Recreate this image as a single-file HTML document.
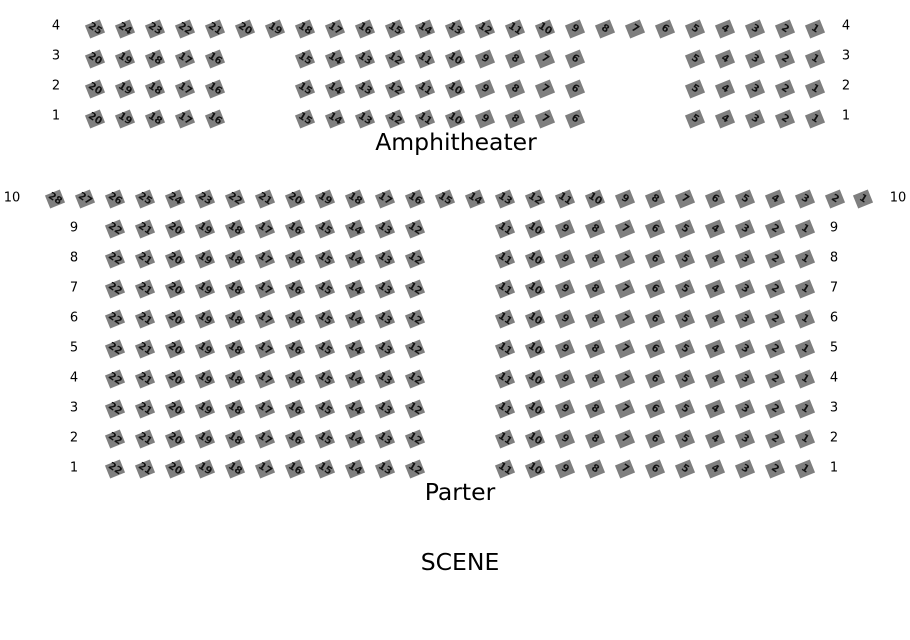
<!DOCTYPE html>
<html><head><meta charset="utf-8"><style>
html,body{margin:0;padding:0;background:#fff;width:910px;height:640px;overflow:hidden}
svg{display:block}
.s rect{fill:#7f7f7f;transform:rotate(-22deg)}
.s text{font:bold 10px "DejaVu Sans","Liberation Sans",sans-serif;fill:#111;text-anchor:middle;dominant-baseline:central;transform:rotate(32deg)}
.l{font:13px "DejaVu Sans","Liberation Sans",sans-serif;fill:#000;text-anchor:middle;dominant-baseline:central}
.t{font:23.5px "DejaVu Sans","Liberation Sans",sans-serif;fill:#000;text-anchor:middle}
</style></head><body>
<svg width="910" height="640" viewBox="0 0 910 640" xmlns="http://www.w3.org/2000/svg">

<text class="l" x="56" y="26">4</text><text class="l" x="846" y="26">4</text>
<text class="l" x="56" y="56">3</text><text class="l" x="846" y="56">3</text>
<text class="l" x="56" y="86">2</text><text class="l" x="846" y="86">2</text>
<text class="l" x="56" y="116">1</text><text class="l" x="846" y="116">1</text>

<g class="s" transform="translate(0,29)">
<g transform="translate(95)"><rect x="-8" y="-7" width="16" height="14"/><text>25</text></g>
<g transform="translate(125)"><rect x="-8" y="-7" width="16" height="14"/><text>24</text></g>
<g transform="translate(155)"><rect x="-8" y="-7" width="16" height="14"/><text>23</text></g>
<g transform="translate(185)"><rect x="-8" y="-7" width="16" height="14"/><text>22</text></g>
<g transform="translate(215)"><rect x="-8" y="-7" width="16" height="14"/><text>21</text></g>
<g transform="translate(245)"><rect x="-8" y="-7" width="16" height="14"/><text>20</text></g>
<g transform="translate(275)"><rect x="-8" y="-7" width="16" height="14"/><text>19</text></g>
<g transform="translate(305)"><rect x="-8" y="-7" width="16" height="14"/><text>18</text></g>
<g transform="translate(335)"><rect x="-8" y="-7" width="16" height="14"/><text>17</text></g>
<g transform="translate(365)"><rect x="-8" y="-7" width="16" height="14"/><text>16</text></g>
<g transform="translate(395)"><rect x="-8" y="-7" width="16" height="14"/><text>15</text></g>
<g transform="translate(425)"><rect x="-8" y="-7" width="16" height="14"/><text>14</text></g>
<g transform="translate(455)"><rect x="-8" y="-7" width="16" height="14"/><text>13</text></g>
<g transform="translate(485)"><rect x="-8" y="-7" width="16" height="14"/><text>12</text></g>
<g transform="translate(515)"><rect x="-8" y="-7" width="16" height="14"/><text>11</text></g>
<g transform="translate(545)"><rect x="-8" y="-7" width="16" height="14"/><text>10</text></g>
<g transform="translate(575)"><rect x="-8" y="-7" width="16" height="14"/><text>9</text></g>
<g transform="translate(605)"><rect x="-8" y="-7" width="16" height="14"/><text>8</text></g>
<g transform="translate(635)"><rect x="-8" y="-7" width="16" height="14"/><text>7</text></g>
<g transform="translate(665)"><rect x="-8" y="-7" width="16" height="14"/><text>6</text></g>
<g transform="translate(695)"><rect x="-8" y="-7" width="16" height="14"/><text>5</text></g>
<g transform="translate(725)"><rect x="-8" y="-7" width="16" height="14"/><text>4</text></g>
<g transform="translate(755)"><rect x="-8" y="-7" width="16" height="14"/><text>3</text></g>
<g transform="translate(785)"><rect x="-8" y="-7" width="16" height="14"/><text>2</text></g>
<g transform="translate(815)"><rect x="-8" y="-7" width="16" height="14"/><text>1</text></g>
</g>

<g class="s" transform="translate(0,59)">
<g transform="translate(95)"><rect x="-8" y="-7" width="16" height="14"/><text>20</text></g>
<g transform="translate(125)"><rect x="-8" y="-7" width="16" height="14"/><text>19</text></g>
<g transform="translate(155)"><rect x="-8" y="-7" width="16" height="14"/><text>18</text></g>
<g transform="translate(185)"><rect x="-8" y="-7" width="16" height="14"/><text>17</text></g>
<g transform="translate(215)"><rect x="-8" y="-7" width="16" height="14"/><text>16</text></g>
<g transform="translate(305)"><rect x="-8" y="-7" width="16" height="14"/><text>15</text></g>
<g transform="translate(335)"><rect x="-8" y="-7" width="16" height="14"/><text>14</text></g>
<g transform="translate(365)"><rect x="-8" y="-7" width="16" height="14"/><text>13</text></g>
<g transform="translate(395)"><rect x="-8" y="-7" width="16" height="14"/><text>12</text></g>
<g transform="translate(425)"><rect x="-8" y="-7" width="16" height="14"/><text>11</text></g>
<g transform="translate(455)"><rect x="-8" y="-7" width="16" height="14"/><text>10</text></g>
<g transform="translate(485)"><rect x="-8" y="-7" width="16" height="14"/><text>9</text></g>
<g transform="translate(515)"><rect x="-8" y="-7" width="16" height="14"/><text>8</text></g>
<g transform="translate(545)"><rect x="-8" y="-7" width="16" height="14"/><text>7</text></g>
<g transform="translate(575)"><rect x="-8" y="-7" width="16" height="14"/><text>6</text></g>
<g transform="translate(695)"><rect x="-8" y="-7" width="16" height="14"/><text>5</text></g>
<g transform="translate(725)"><rect x="-8" y="-7" width="16" height="14"/><text>4</text></g>
<g transform="translate(755)"><rect x="-8" y="-7" width="16" height="14"/><text>3</text></g>
<g transform="translate(785)"><rect x="-8" y="-7" width="16" height="14"/><text>2</text></g>
<g transform="translate(815)"><rect x="-8" y="-7" width="16" height="14"/><text>1</text></g>
</g>

<g class="s" transform="translate(0,89)">
<g transform="translate(95)"><rect x="-8" y="-7" width="16" height="14"/><text>20</text></g>
<g transform="translate(125)"><rect x="-8" y="-7" width="16" height="14"/><text>19</text></g>
<g transform="translate(155)"><rect x="-8" y="-7" width="16" height="14"/><text>18</text></g>
<g transform="translate(185)"><rect x="-8" y="-7" width="16" height="14"/><text>17</text></g>
<g transform="translate(215)"><rect x="-8" y="-7" width="16" height="14"/><text>16</text></g>
<g transform="translate(305)"><rect x="-8" y="-7" width="16" height="14"/><text>15</text></g>
<g transform="translate(335)"><rect x="-8" y="-7" width="16" height="14"/><text>14</text></g>
<g transform="translate(365)"><rect x="-8" y="-7" width="16" height="14"/><text>13</text></g>
<g transform="translate(395)"><rect x="-8" y="-7" width="16" height="14"/><text>12</text></g>
<g transform="translate(425)"><rect x="-8" y="-7" width="16" height="14"/><text>11</text></g>
<g transform="translate(455)"><rect x="-8" y="-7" width="16" height="14"/><text>10</text></g>
<g transform="translate(485)"><rect x="-8" y="-7" width="16" height="14"/><text>9</text></g>
<g transform="translate(515)"><rect x="-8" y="-7" width="16" height="14"/><text>8</text></g>
<g transform="translate(545)"><rect x="-8" y="-7" width="16" height="14"/><text>7</text></g>
<g transform="translate(575)"><rect x="-8" y="-7" width="16" height="14"/><text>6</text></g>
<g transform="translate(695)"><rect x="-8" y="-7" width="16" height="14"/><text>5</text></g>
<g transform="translate(725)"><rect x="-8" y="-7" width="16" height="14"/><text>4</text></g>
<g transform="translate(755)"><rect x="-8" y="-7" width="16" height="14"/><text>3</text></g>
<g transform="translate(785)"><rect x="-8" y="-7" width="16" height="14"/><text>2</text></g>
<g transform="translate(815)"><rect x="-8" y="-7" width="16" height="14"/><text>1</text></g>
</g>

<g class="s" transform="translate(0,119)">
<g transform="translate(95)"><rect x="-8" y="-7" width="16" height="14"/><text>20</text></g>
<g transform="translate(125)"><rect x="-8" y="-7" width="16" height="14"/><text>19</text></g>
<g transform="translate(155)"><rect x="-8" y="-7" width="16" height="14"/><text>18</text></g>
<g transform="translate(185)"><rect x="-8" y="-7" width="16" height="14"/><text>17</text></g>
<g transform="translate(215)"><rect x="-8" y="-7" width="16" height="14"/><text>16</text></g>
<g transform="translate(305)"><rect x="-8" y="-7" width="16" height="14"/><text>15</text></g>
<g transform="translate(335)"><rect x="-8" y="-7" width="16" height="14"/><text>14</text></g>
<g transform="translate(365)"><rect x="-8" y="-7" width="16" height="14"/><text>13</text></g>
<g transform="translate(395)"><rect x="-8" y="-7" width="16" height="14"/><text>12</text></g>
<g transform="translate(425)"><rect x="-8" y="-7" width="16" height="14"/><text>11</text></g>
<g transform="translate(455)"><rect x="-8" y="-7" width="16" height="14"/><text>10</text></g>
<g transform="translate(485)"><rect x="-8" y="-7" width="16" height="14"/><text>9</text></g>
<g transform="translate(515)"><rect x="-8" y="-7" width="16" height="14"/><text>8</text></g>
<g transform="translate(545)"><rect x="-8" y="-7" width="16" height="14"/><text>7</text></g>
<g transform="translate(575)"><rect x="-8" y="-7" width="16" height="14"/><text>6</text></g>
<g transform="translate(695)"><rect x="-8" y="-7" width="16" height="14"/><text>5</text></g>
<g transform="translate(725)"><rect x="-8" y="-7" width="16" height="14"/><text>4</text></g>
<g transform="translate(755)"><rect x="-8" y="-7" width="16" height="14"/><text>3</text></g>
<g transform="translate(785)"><rect x="-8" y="-7" width="16" height="14"/><text>2</text></g>
<g transform="translate(815)"><rect x="-8" y="-7" width="16" height="14"/><text>1</text></g>
</g>

<text class="t" x="456" y="150">Amphitheater</text>

<text class="l" x="12" y="198">10</text><text class="l" x="898" y="198">10</text>
<g class="s" transform="translate(0,199)">
<g transform="translate(55)"><rect x="-8" y="-7" width="16" height="14"/><text>28</text></g>
<g transform="translate(85)"><rect x="-8" y="-7" width="16" height="14"/><text>27</text></g>
<g transform="translate(115)"><rect x="-8" y="-7" width="16" height="14"/><text>26</text></g>
<g transform="translate(145)"><rect x="-8" y="-7" width="16" height="14"/><text>25</text></g>
<g transform="translate(175)"><rect x="-8" y="-7" width="16" height="14"/><text>24</text></g>
<g transform="translate(205)"><rect x="-8" y="-7" width="16" height="14"/><text>23</text></g>
<g transform="translate(235)"><rect x="-8" y="-7" width="16" height="14"/><text>22</text></g>
<g transform="translate(265)"><rect x="-8" y="-7" width="16" height="14"/><text>21</text></g>
<g transform="translate(295)"><rect x="-8" y="-7" width="16" height="14"/><text>20</text></g>
<g transform="translate(325)"><rect x="-8" y="-7" width="16" height="14"/><text>19</text></g>
<g transform="translate(355)"><rect x="-8" y="-7" width="16" height="14"/><text>18</text></g>
<g transform="translate(385)"><rect x="-8" y="-7" width="16" height="14"/><text>17</text></g>
<g transform="translate(415)"><rect x="-8" y="-7" width="16" height="14"/><text>16</text></g>
<g transform="translate(445)"><rect x="-8" y="-7" width="16" height="14"/><text>15</text></g>
<g transform="translate(475)"><rect x="-8" y="-7" width="16" height="14"/><text>14</text></g>
<g transform="translate(505)"><rect x="-8" y="-7" width="16" height="14"/><text>13</text></g>
<g transform="translate(535)"><rect x="-8" y="-7" width="16" height="14"/><text>12</text></g>
<g transform="translate(565)"><rect x="-8" y="-7" width="16" height="14"/><text>11</text></g>
<g transform="translate(595)"><rect x="-8" y="-7" width="16" height="14"/><text>10</text></g>
<g transform="translate(625)"><rect x="-8" y="-7" width="16" height="14"/><text>9</text></g>
<g transform="translate(655)"><rect x="-8" y="-7" width="16" height="14"/><text>8</text></g>
<g transform="translate(685)"><rect x="-8" y="-7" width="16" height="14"/><text>7</text></g>
<g transform="translate(715)"><rect x="-8" y="-7" width="16" height="14"/><text>6</text></g>
<g transform="translate(745)"><rect x="-8" y="-7" width="16" height="14"/><text>5</text></g>
<g transform="translate(775)"><rect x="-8" y="-7" width="16" height="14"/><text>4</text></g>
<g transform="translate(805)"><rect x="-8" y="-7" width="16" height="14"/><text>3</text></g>
<g transform="translate(835)"><rect x="-8" y="-7" width="16" height="14"/><text>2</text></g>
<g transform="translate(863)"><rect x="-8" y="-7" width="16" height="14"/><text>1</text></g>
</g>

<text class="l" x="74" y="228">9</text><text class="l" x="834" y="228">9</text>
<text class="l" x="74" y="258">8</text><text class="l" x="834" y="258">8</text>
<text class="l" x="74" y="288">7</text><text class="l" x="834" y="288">7</text>
<text class="l" x="74" y="318">6</text><text class="l" x="834" y="318">6</text>
<text class="l" x="74" y="348">5</text><text class="l" x="834" y="348">5</text>
<text class="l" x="74" y="378">4</text><text class="l" x="834" y="378">4</text>
<text class="l" x="74" y="408">3</text><text class="l" x="834" y="408">3</text>
<text class="l" x="74" y="438">2</text><text class="l" x="834" y="438">2</text>
<text class="l" x="74" y="468">1</text><text class="l" x="834" y="468">1</text>

<g class="s" transform="translate(0,229)">
<g transform="translate(115)"><rect x="-8" y="-7" width="16" height="14"/><text>22</text></g>
<g transform="translate(145)"><rect x="-8" y="-7" width="16" height="14"/><text>21</text></g>
<g transform="translate(175)"><rect x="-8" y="-7" width="16" height="14"/><text>20</text></g>
<g transform="translate(205)"><rect x="-8" y="-7" width="16" height="14"/><text>19</text></g>
<g transform="translate(235)"><rect x="-8" y="-7" width="16" height="14"/><text>18</text></g>
<g transform="translate(265)"><rect x="-8" y="-7" width="16" height="14"/><text>17</text></g>
<g transform="translate(295)"><rect x="-8" y="-7" width="16" height="14"/><text>16</text></g>
<g transform="translate(325)"><rect x="-8" y="-7" width="16" height="14"/><text>15</text></g>
<g transform="translate(355)"><rect x="-8" y="-7" width="16" height="14"/><text>14</text></g>
<g transform="translate(385)"><rect x="-8" y="-7" width="16" height="14"/><text>13</text></g>
<g transform="translate(415)"><rect x="-8" y="-7" width="16" height="14"/><text>12</text></g>
<g transform="translate(505)"><rect x="-8" y="-7" width="16" height="14"/><text>11</text></g>
<g transform="translate(535)"><rect x="-8" y="-7" width="16" height="14"/><text>10</text></g>
<g transform="translate(565)"><rect x="-8" y="-7" width="16" height="14"/><text>9</text></g>
<g transform="translate(595)"><rect x="-8" y="-7" width="16" height="14"/><text>8</text></g>
<g transform="translate(625)"><rect x="-8" y="-7" width="16" height="14"/><text>7</text></g>
<g transform="translate(655)"><rect x="-8" y="-7" width="16" height="14"/><text>6</text></g>
<g transform="translate(685)"><rect x="-8" y="-7" width="16" height="14"/><text>5</text></g>
<g transform="translate(715)"><rect x="-8" y="-7" width="16" height="14"/><text>4</text></g>
<g transform="translate(745)"><rect x="-8" y="-7" width="16" height="14"/><text>3</text></g>
<g transform="translate(775)"><rect x="-8" y="-7" width="16" height="14"/><text>2</text></g>
<g transform="translate(805)"><rect x="-8" y="-7" width="16" height="14"/><text>1</text></g>
</g>
<g class="s" transform="translate(0,259)">
<g transform="translate(115)"><rect x="-8" y="-7" width="16" height="14"/><text>22</text></g>
<g transform="translate(145)"><rect x="-8" y="-7" width="16" height="14"/><text>21</text></g>
<g transform="translate(175)"><rect x="-8" y="-7" width="16" height="14"/><text>20</text></g>
<g transform="translate(205)"><rect x="-8" y="-7" width="16" height="14"/><text>19</text></g>
<g transform="translate(235)"><rect x="-8" y="-7" width="16" height="14"/><text>18</text></g>
<g transform="translate(265)"><rect x="-8" y="-7" width="16" height="14"/><text>17</text></g>
<g transform="translate(295)"><rect x="-8" y="-7" width="16" height="14"/><text>16</text></g>
<g transform="translate(325)"><rect x="-8" y="-7" width="16" height="14"/><text>15</text></g>
<g transform="translate(355)"><rect x="-8" y="-7" width="16" height="14"/><text>14</text></g>
<g transform="translate(385)"><rect x="-8" y="-7" width="16" height="14"/><text>13</text></g>
<g transform="translate(415)"><rect x="-8" y="-7" width="16" height="14"/><text>12</text></g>
<g transform="translate(505)"><rect x="-8" y="-7" width="16" height="14"/><text>11</text></g>
<g transform="translate(535)"><rect x="-8" y="-7" width="16" height="14"/><text>10</text></g>
<g transform="translate(565)"><rect x="-8" y="-7" width="16" height="14"/><text>9</text></g>
<g transform="translate(595)"><rect x="-8" y="-7" width="16" height="14"/><text>8</text></g>
<g transform="translate(625)"><rect x="-8" y="-7" width="16" height="14"/><text>7</text></g>
<g transform="translate(655)"><rect x="-8" y="-7" width="16" height="14"/><text>6</text></g>
<g transform="translate(685)"><rect x="-8" y="-7" width="16" height="14"/><text>5</text></g>
<g transform="translate(715)"><rect x="-8" y="-7" width="16" height="14"/><text>4</text></g>
<g transform="translate(745)"><rect x="-8" y="-7" width="16" height="14"/><text>3</text></g>
<g transform="translate(775)"><rect x="-8" y="-7" width="16" height="14"/><text>2</text></g>
<g transform="translate(805)"><rect x="-8" y="-7" width="16" height="14"/><text>1</text></g>
</g>
<g class="s" transform="translate(0,289)">
<g transform="translate(115)"><rect x="-8" y="-7" width="16" height="14"/><text>22</text></g>
<g transform="translate(145)"><rect x="-8" y="-7" width="16" height="14"/><text>21</text></g>
<g transform="translate(175)"><rect x="-8" y="-7" width="16" height="14"/><text>20</text></g>
<g transform="translate(205)"><rect x="-8" y="-7" width="16" height="14"/><text>19</text></g>
<g transform="translate(235)"><rect x="-8" y="-7" width="16" height="14"/><text>18</text></g>
<g transform="translate(265)"><rect x="-8" y="-7" width="16" height="14"/><text>17</text></g>
<g transform="translate(295)"><rect x="-8" y="-7" width="16" height="14"/><text>16</text></g>
<g transform="translate(325)"><rect x="-8" y="-7" width="16" height="14"/><text>15</text></g>
<g transform="translate(355)"><rect x="-8" y="-7" width="16" height="14"/><text>14</text></g>
<g transform="translate(385)"><rect x="-8" y="-7" width="16" height="14"/><text>13</text></g>
<g transform="translate(415)"><rect x="-8" y="-7" width="16" height="14"/><text>12</text></g>
<g transform="translate(505)"><rect x="-8" y="-7" width="16" height="14"/><text>11</text></g>
<g transform="translate(535)"><rect x="-8" y="-7" width="16" height="14"/><text>10</text></g>
<g transform="translate(565)"><rect x="-8" y="-7" width="16" height="14"/><text>9</text></g>
<g transform="translate(595)"><rect x="-8" y="-7" width="16" height="14"/><text>8</text></g>
<g transform="translate(625)"><rect x="-8" y="-7" width="16" height="14"/><text>7</text></g>
<g transform="translate(655)"><rect x="-8" y="-7" width="16" height="14"/><text>6</text></g>
<g transform="translate(685)"><rect x="-8" y="-7" width="16" height="14"/><text>5</text></g>
<g transform="translate(715)"><rect x="-8" y="-7" width="16" height="14"/><text>4</text></g>
<g transform="translate(745)"><rect x="-8" y="-7" width="16" height="14"/><text>3</text></g>
<g transform="translate(775)"><rect x="-8" y="-7" width="16" height="14"/><text>2</text></g>
<g transform="translate(805)"><rect x="-8" y="-7" width="16" height="14"/><text>1</text></g>
</g>
<g class="s" transform="translate(0,319)">
<g transform="translate(115)"><rect x="-8" y="-7" width="16" height="14"/><text>22</text></g>
<g transform="translate(145)"><rect x="-8" y="-7" width="16" height="14"/><text>21</text></g>
<g transform="translate(175)"><rect x="-8" y="-7" width="16" height="14"/><text>20</text></g>
<g transform="translate(205)"><rect x="-8" y="-7" width="16" height="14"/><text>19</text></g>
<g transform="translate(235)"><rect x="-8" y="-7" width="16" height="14"/><text>18</text></g>
<g transform="translate(265)"><rect x="-8" y="-7" width="16" height="14"/><text>17</text></g>
<g transform="translate(295)"><rect x="-8" y="-7" width="16" height="14"/><text>16</text></g>
<g transform="translate(325)"><rect x="-8" y="-7" width="16" height="14"/><text>15</text></g>
<g transform="translate(355)"><rect x="-8" y="-7" width="16" height="14"/><text>14</text></g>
<g transform="translate(385)"><rect x="-8" y="-7" width="16" height="14"/><text>13</text></g>
<g transform="translate(415)"><rect x="-8" y="-7" width="16" height="14"/><text>12</text></g>
<g transform="translate(505)"><rect x="-8" y="-7" width="16" height="14"/><text>11</text></g>
<g transform="translate(535)"><rect x="-8" y="-7" width="16" height="14"/><text>10</text></g>
<g transform="translate(565)"><rect x="-8" y="-7" width="16" height="14"/><text>9</text></g>
<g transform="translate(595)"><rect x="-8" y="-7" width="16" height="14"/><text>8</text></g>
<g transform="translate(625)"><rect x="-8" y="-7" width="16" height="14"/><text>7</text></g>
<g transform="translate(655)"><rect x="-8" y="-7" width="16" height="14"/><text>6</text></g>
<g transform="translate(685)"><rect x="-8" y="-7" width="16" height="14"/><text>5</text></g>
<g transform="translate(715)"><rect x="-8" y="-7" width="16" height="14"/><text>4</text></g>
<g transform="translate(745)"><rect x="-8" y="-7" width="16" height="14"/><text>3</text></g>
<g transform="translate(775)"><rect x="-8" y="-7" width="16" height="14"/><text>2</text></g>
<g transform="translate(805)"><rect x="-8" y="-7" width="16" height="14"/><text>1</text></g>
</g>
<g class="s" transform="translate(0,349)">
<g transform="translate(115)"><rect x="-8" y="-7" width="16" height="14"/><text>22</text></g>
<g transform="translate(145)"><rect x="-8" y="-7" width="16" height="14"/><text>21</text></g>
<g transform="translate(175)"><rect x="-8" y="-7" width="16" height="14"/><text>20</text></g>
<g transform="translate(205)"><rect x="-8" y="-7" width="16" height="14"/><text>19</text></g>
<g transform="translate(235)"><rect x="-8" y="-7" width="16" height="14"/><text>18</text></g>
<g transform="translate(265)"><rect x="-8" y="-7" width="16" height="14"/><text>17</text></g>
<g transform="translate(295)"><rect x="-8" y="-7" width="16" height="14"/><text>16</text></g>
<g transform="translate(325)"><rect x="-8" y="-7" width="16" height="14"/><text>15</text></g>
<g transform="translate(355)"><rect x="-8" y="-7" width="16" height="14"/><text>14</text></g>
<g transform="translate(385)"><rect x="-8" y="-7" width="16" height="14"/><text>13</text></g>
<g transform="translate(415)"><rect x="-8" y="-7" width="16" height="14"/><text>12</text></g>
<g transform="translate(505)"><rect x="-8" y="-7" width="16" height="14"/><text>11</text></g>
<g transform="translate(535)"><rect x="-8" y="-7" width="16" height="14"/><text>10</text></g>
<g transform="translate(565)"><rect x="-8" y="-7" width="16" height="14"/><text>9</text></g>
<g transform="translate(595)"><rect x="-8" y="-7" width="16" height="14"/><text>8</text></g>
<g transform="translate(625)"><rect x="-8" y="-7" width="16" height="14"/><text>7</text></g>
<g transform="translate(655)"><rect x="-8" y="-7" width="16" height="14"/><text>6</text></g>
<g transform="translate(685)"><rect x="-8" y="-7" width="16" height="14"/><text>5</text></g>
<g transform="translate(715)"><rect x="-8" y="-7" width="16" height="14"/><text>4</text></g>
<g transform="translate(745)"><rect x="-8" y="-7" width="16" height="14"/><text>3</text></g>
<g transform="translate(775)"><rect x="-8" y="-7" width="16" height="14"/><text>2</text></g>
<g transform="translate(805)"><rect x="-8" y="-7" width="16" height="14"/><text>1</text></g>
</g>
<g class="s" transform="translate(0,379)">
<g transform="translate(115)"><rect x="-8" y="-7" width="16" height="14"/><text>22</text></g>
<g transform="translate(145)"><rect x="-8" y="-7" width="16" height="14"/><text>21</text></g>
<g transform="translate(175)"><rect x="-8" y="-7" width="16" height="14"/><text>20</text></g>
<g transform="translate(205)"><rect x="-8" y="-7" width="16" height="14"/><text>19</text></g>
<g transform="translate(235)"><rect x="-8" y="-7" width="16" height="14"/><text>18</text></g>
<g transform="translate(265)"><rect x="-8" y="-7" width="16" height="14"/><text>17</text></g>
<g transform="translate(295)"><rect x="-8" y="-7" width="16" height="14"/><text>16</text></g>
<g transform="translate(325)"><rect x="-8" y="-7" width="16" height="14"/><text>15</text></g>
<g transform="translate(355)"><rect x="-8" y="-7" width="16" height="14"/><text>14</text></g>
<g transform="translate(385)"><rect x="-8" y="-7" width="16" height="14"/><text>13</text></g>
<g transform="translate(415)"><rect x="-8" y="-7" width="16" height="14"/><text>12</text></g>
<g transform="translate(505)"><rect x="-8" y="-7" width="16" height="14"/><text>11</text></g>
<g transform="translate(535)"><rect x="-8" y="-7" width="16" height="14"/><text>10</text></g>
<g transform="translate(565)"><rect x="-8" y="-7" width="16" height="14"/><text>9</text></g>
<g transform="translate(595)"><rect x="-8" y="-7" width="16" height="14"/><text>8</text></g>
<g transform="translate(625)"><rect x="-8" y="-7" width="16" height="14"/><text>7</text></g>
<g transform="translate(655)"><rect x="-8" y="-7" width="16" height="14"/><text>6</text></g>
<g transform="translate(685)"><rect x="-8" y="-7" width="16" height="14"/><text>5</text></g>
<g transform="translate(715)"><rect x="-8" y="-7" width="16" height="14"/><text>4</text></g>
<g transform="translate(745)"><rect x="-8" y="-7" width="16" height="14"/><text>3</text></g>
<g transform="translate(775)"><rect x="-8" y="-7" width="16" height="14"/><text>2</text></g>
<g transform="translate(805)"><rect x="-8" y="-7" width="16" height="14"/><text>1</text></g>
</g>
<g class="s" transform="translate(0,409)">
<g transform="translate(115)"><rect x="-8" y="-7" width="16" height="14"/><text>22</text></g>
<g transform="translate(145)"><rect x="-8" y="-7" width="16" height="14"/><text>21</text></g>
<g transform="translate(175)"><rect x="-8" y="-7" width="16" height="14"/><text>20</text></g>
<g transform="translate(205)"><rect x="-8" y="-7" width="16" height="14"/><text>19</text></g>
<g transform="translate(235)"><rect x="-8" y="-7" width="16" height="14"/><text>18</text></g>
<g transform="translate(265)"><rect x="-8" y="-7" width="16" height="14"/><text>17</text></g>
<g transform="translate(295)"><rect x="-8" y="-7" width="16" height="14"/><text>16</text></g>
<g transform="translate(325)"><rect x="-8" y="-7" width="16" height="14"/><text>15</text></g>
<g transform="translate(355)"><rect x="-8" y="-7" width="16" height="14"/><text>14</text></g>
<g transform="translate(385)"><rect x="-8" y="-7" width="16" height="14"/><text>13</text></g>
<g transform="translate(415)"><rect x="-8" y="-7" width="16" height="14"/><text>12</text></g>
<g transform="translate(505)"><rect x="-8" y="-7" width="16" height="14"/><text>11</text></g>
<g transform="translate(535)"><rect x="-8" y="-7" width="16" height="14"/><text>10</text></g>
<g transform="translate(565)"><rect x="-8" y="-7" width="16" height="14"/><text>9</text></g>
<g transform="translate(595)"><rect x="-8" y="-7" width="16" height="14"/><text>8</text></g>
<g transform="translate(625)"><rect x="-8" y="-7" width="16" height="14"/><text>7</text></g>
<g transform="translate(655)"><rect x="-8" y="-7" width="16" height="14"/><text>6</text></g>
<g transform="translate(685)"><rect x="-8" y="-7" width="16" height="14"/><text>5</text></g>
<g transform="translate(715)"><rect x="-8" y="-7" width="16" height="14"/><text>4</text></g>
<g transform="translate(745)"><rect x="-8" y="-7" width="16" height="14"/><text>3</text></g>
<g transform="translate(775)"><rect x="-8" y="-7" width="16" height="14"/><text>2</text></g>
<g transform="translate(805)"><rect x="-8" y="-7" width="16" height="14"/><text>1</text></g>
</g>
<g class="s" transform="translate(0,439)">
<g transform="translate(115)"><rect x="-8" y="-7" width="16" height="14"/><text>22</text></g>
<g transform="translate(145)"><rect x="-8" y="-7" width="16" height="14"/><text>21</text></g>
<g transform="translate(175)"><rect x="-8" y="-7" width="16" height="14"/><text>20</text></g>
<g transform="translate(205)"><rect x="-8" y="-7" width="16" height="14"/><text>19</text></g>
<g transform="translate(235)"><rect x="-8" y="-7" width="16" height="14"/><text>18</text></g>
<g transform="translate(265)"><rect x="-8" y="-7" width="16" height="14"/><text>17</text></g>
<g transform="translate(295)"><rect x="-8" y="-7" width="16" height="14"/><text>16</text></g>
<g transform="translate(325)"><rect x="-8" y="-7" width="16" height="14"/><text>15</text></g>
<g transform="translate(355)"><rect x="-8" y="-7" width="16" height="14"/><text>14</text></g>
<g transform="translate(385)"><rect x="-8" y="-7" width="16" height="14"/><text>13</text></g>
<g transform="translate(415)"><rect x="-8" y="-7" width="16" height="14"/><text>12</text></g>
<g transform="translate(505)"><rect x="-8" y="-7" width="16" height="14"/><text>11</text></g>
<g transform="translate(535)"><rect x="-8" y="-7" width="16" height="14"/><text>10</text></g>
<g transform="translate(565)"><rect x="-8" y="-7" width="16" height="14"/><text>9</text></g>
<g transform="translate(595)"><rect x="-8" y="-7" width="16" height="14"/><text>8</text></g>
<g transform="translate(625)"><rect x="-8" y="-7" width="16" height="14"/><text>7</text></g>
<g transform="translate(655)"><rect x="-8" y="-7" width="16" height="14"/><text>6</text></g>
<g transform="translate(685)"><rect x="-8" y="-7" width="16" height="14"/><text>5</text></g>
<g transform="translate(715)"><rect x="-8" y="-7" width="16" height="14"/><text>4</text></g>
<g transform="translate(745)"><rect x="-8" y="-7" width="16" height="14"/><text>3</text></g>
<g transform="translate(775)"><rect x="-8" y="-7" width="16" height="14"/><text>2</text></g>
<g transform="translate(805)"><rect x="-8" y="-7" width="16" height="14"/><text>1</text></g>
</g>
<g class="s" transform="translate(0,469)">
<g transform="translate(115)"><rect x="-8" y="-7" width="16" height="14"/><text>22</text></g>
<g transform="translate(145)"><rect x="-8" y="-7" width="16" height="14"/><text>21</text></g>
<g transform="translate(175)"><rect x="-8" y="-7" width="16" height="14"/><text>20</text></g>
<g transform="translate(205)"><rect x="-8" y="-7" width="16" height="14"/><text>19</text></g>
<g transform="translate(235)"><rect x="-8" y="-7" width="16" height="14"/><text>18</text></g>
<g transform="translate(265)"><rect x="-8" y="-7" width="16" height="14"/><text>17</text></g>
<g transform="translate(295)"><rect x="-8" y="-7" width="16" height="14"/><text>16</text></g>
<g transform="translate(325)"><rect x="-8" y="-7" width="16" height="14"/><text>15</text></g>
<g transform="translate(355)"><rect x="-8" y="-7" width="16" height="14"/><text>14</text></g>
<g transform="translate(385)"><rect x="-8" y="-7" width="16" height="14"/><text>13</text></g>
<g transform="translate(415)"><rect x="-8" y="-7" width="16" height="14"/><text>12</text></g>
<g transform="translate(505)"><rect x="-8" y="-7" width="16" height="14"/><text>11</text></g>
<g transform="translate(535)"><rect x="-8" y="-7" width="16" height="14"/><text>10</text></g>
<g transform="translate(565)"><rect x="-8" y="-7" width="16" height="14"/><text>9</text></g>
<g transform="translate(595)"><rect x="-8" y="-7" width="16" height="14"/><text>8</text></g>
<g transform="translate(625)"><rect x="-8" y="-7" width="16" height="14"/><text>7</text></g>
<g transform="translate(655)"><rect x="-8" y="-7" width="16" height="14"/><text>6</text></g>
<g transform="translate(685)"><rect x="-8" y="-7" width="16" height="14"/><text>5</text></g>
<g transform="translate(715)"><rect x="-8" y="-7" width="16" height="14"/><text>4</text></g>
<g transform="translate(745)"><rect x="-8" y="-7" width="16" height="14"/><text>3</text></g>
<g transform="translate(775)"><rect x="-8" y="-7" width="16" height="14"/><text>2</text></g>
<g transform="translate(805)"><rect x="-8" y="-7" width="16" height="14"/><text>1</text></g>
</g>

<text class="t" x="460" y="500">Parter</text>
<text class="t" x="460" y="570">SCENE</text>
</svg>
</body></html>
